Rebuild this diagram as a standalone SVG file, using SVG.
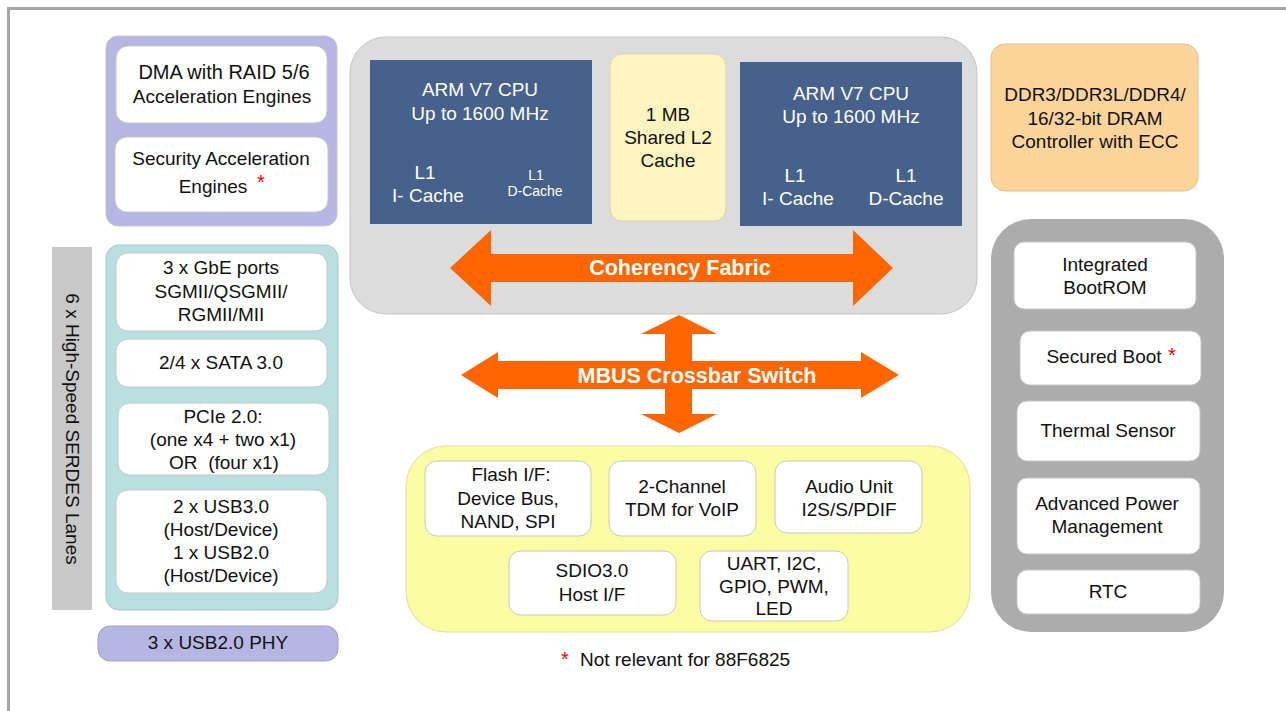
<svg xmlns="http://www.w3.org/2000/svg" width="1286" height="711" viewBox="0 0 1286 711">
<style>
text{font-family:"Liberation Sans",Arial,sans-serif;font-size:19px;fill:#111;text-anchor:middle}
.w{fill:#fff}
.sm{font-size:14px}
.b{font-weight:bold;fill:#fff;font-size:21.5px}
.star{fill:#e00;font-size:20px}
.box{fill:#fff;stroke:#c8c8c8;stroke-width:1}
.cpu{fill:#46618b}
.arrow{fill:#ff6600}
</style>
<rect width="1286" height="711" fill="#fff"/>
<g id="frame">
<rect x="7" y="7" width="1279" height="3" fill="#a6a6a6"/>
<rect x="7" y="7" width="3" height="704" fill="#a6a6a6"/>
</g>

<g id="accel">
<rect x="106" y="36" width="231" height="190" rx="12" fill="#b6b6e2" stroke="#c4c4d8"/>
<rect class="box" x="116" y="46" width="211" height="77" rx="12"/>
<text x="224" y="79" style="font-size:20px">DMA with RAID 5/6</text>
<text x="222" y="103">Acceleration Engines</text>
<rect class="box" x="115" y="137" width="213" height="75" rx="12"/>
<text x="221" y="165">Security Acceleration</text>
<text x="213" y="193">Engines</text>
<text class="star" x="261" y="189">*</text>
</g>

<g id="serdes">
<rect x="52" y="247" width="40" height="363" fill="#c8c8c8"/>
<text transform="translate(66 429) rotate(90)">6 x High-Speed SERDES Lanes</text>
</g>

<g id="io">
<rect x="106" y="245" width="232" height="365" rx="13" fill="#b8e0e0" stroke="#a8c8c8"/>
<rect class="box" x="116" y="253" width="211" height="78" rx="12"/>
<text x="221" y="274">3 x GbE ports</text>
<text x="221" y="298">SGMII/QSGMII/</text>
<text x="221" y="321">RGMII/MII</text>
<rect class="box" x="116" y="339" width="211" height="48" rx="12"/>
<text x="221" y="369">2/4 x SATA 3.0</text>
<rect class="box" x="118" y="403" width="211" height="72" rx="12"/>
<text x="223" y="423">PCIe 2.0:</text>
<text x="223" y="446">(one x4 + two x1)</text>
<text x="224" y="469">OR&#160; (four x1)</text>
<rect class="box" x="116" y="490" width="211" height="103" rx="12"/>
<text x="221" y="513">2 x USB3.0</text>
<text x="221" y="536">(Host/Device)</text>
<text x="221" y="559">1 x USB2.0</text>
<text x="221" y="582">(Host/Device)</text>
</g>

<g id="usbphy">
<rect x="98" y="626" width="240" height="35" rx="12" fill="#b6b6e2" stroke="#a0a0c8"/>
<text x="218" y="649">3 x USB2.0 PHY</text>
</g>

<g id="cpu-cluster">
<rect x="350" y="37" width="627" height="277" rx="36" fill="#dcdcdc" stroke="#c6c6c6"/>
<rect class="cpu" x="370" y="60" width="222" height="164"/>
<text class="w" x="480" y="96">ARM V7 CPU</text>
<text class="w" x="480" y="120">Up to 1600 MHz</text>
<text class="w" x="425" y="179">L1</text>
<text class="w" x="428" y="202">I- Cache</text>
<text class="w sm" x="536" y="180">L1</text>
<text class="w sm" x="535" y="196">D-Cache</text>
<rect x="610" y="54" width="116" height="167" rx="12" fill="#fcf5c0" stroke="#d8d4b0"/>
<text x="668" y="121">1 MB</text>
<text x="668" y="144">Shared L2</text>
<text x="668" y="167">Cache</text>
<rect class="cpu" x="740" y="62" width="222" height="164"/>
<text class="w" x="851" y="100">ARM V7 CPU</text>
<text class="w" x="851" y="123">Up to 1600 MHz</text>
<text class="w" x="795" y="182">L1</text>
<text class="w" x="798" y="205">I- Cache</text>
<text class="w" x="906" y="182">L1</text>
<text class="w" x="906" y="205">D-Cache</text>
</g>

<g id="ddr">
<rect x="991" y="44" width="207" height="147" rx="14" fill="#fdd49a" stroke="#e0c090"/>
<text x="1095" y="101">DDR3/DDR3L/DDR4/</text>
<text x="1095" y="125">16/32-bit DRAM</text>
<text x="1095" y="148">Controller with ECC</text>
</g>

<g id="misc">
<rect x="991" y="219" width="233" height="413" rx="40" fill="#acacac"/>
<rect class="box" x="1014" y="242" width="182" height="67" rx="10"/>
<text x="1105" y="271">Integrated</text>
<text x="1105" y="294">BootROM</text>
<rect class="box" x="1020" y="331" width="181" height="54" rx="10"/>
<text x="1104" y="363">Secured Boot</text>
<text class="star" x="1172" y="362">*</text>
<rect class="box" x="1017" y="401" width="183" height="60" rx="10"/>
<text x="1108" y="437">Thermal Sensor</text>
<rect class="box" x="1017" y="478" width="183" height="76" rx="10"/>
<text x="1107" y="510">Advanced Power</text>
<text x="1107" y="533">Management</text>
<rect class="box" x="1017" y="570" width="183" height="44" rx="10"/>
<text x="1108" y="598">RTC</text>
</g>

<g id="peripherals">
<rect x="406" y="446" width="564" height="186" rx="40" fill="#fcfca2" stroke="#e0e0a0"/>
<rect class="box" x="425" y="461" width="166" height="75" rx="12"/>
<text x="511" y="481">Flash I/F:</text>
<text x="508" y="505">Device Bus,</text>
<text x="508" y="528">NAND, SPI</text>
<rect class="box" x="609" y="461" width="147" height="75" rx="12"/>
<text x="682" y="493">2-Channel</text>
<text x="682" y="516">TDM for VoIP</text>
<rect class="box" x="775" y="461" width="147" height="72" rx="12"/>
<text x="849" y="493">Audio Unit</text>
<text x="849" y="516">I2S/S/PDIF</text>
<rect class="box" x="509" y="551" width="167" height="64" rx="12"/>
<text x="592" y="577">SDIO3.0</text>
<text x="592" y="601">Host I/F</text>
<rect class="box" x="700" y="551" width="148" height="70" rx="12"/>
<text x="774" y="570">UART, I2C,</text>
<text x="774" y="593">GPIO, PWM,</text>
<text x="774" y="615">LED</text>
</g>

<g id="connectors">
<polygon class="arrow" points="450,268 491,230 491,254 853,254 853,230 893,268 853,306 853,282 491,282 491,306"/>
<text class="b" x="680" y="275">Coherency Fabric</text>
<polygon class="arrow" points="679,315 717,334 692,334 692,361 861,361 861,352 899,375 861,398 861,389 692,389 692,414 717,414 679,433 641,414 665,414 665,389 498,389 498,398 461,375 498,352 498,361 665,361 665,334 641,334"/>
<text class="b" x="697" y="383">MBUS Crossbar Switch</text>
</g>

<g id="footnote">
<text class="star" x="565" y="666">*</text>
<text x="685" y="666">Not relevant for 88F6825</text>
</g>
</svg>
